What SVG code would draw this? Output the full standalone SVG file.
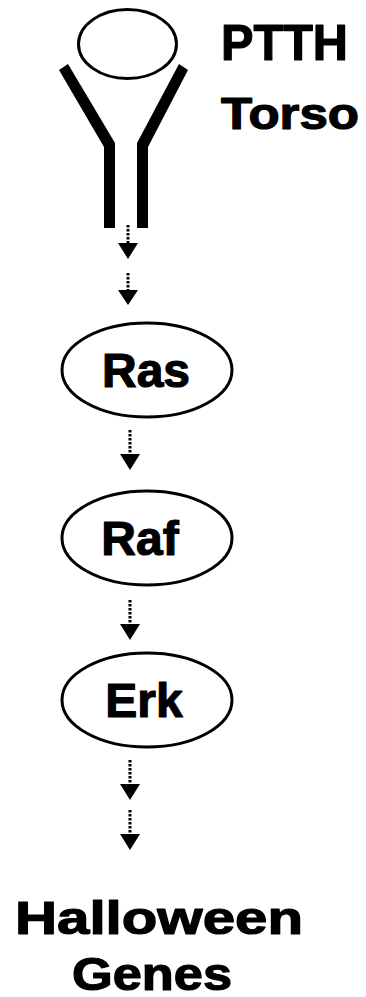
<svg xmlns="http://www.w3.org/2000/svg" width="366" height="997" viewBox="0 0 366 997">
  <style>
    .ring { fill: none; stroke: #000; stroke-width: 3; }
    .lbl { font-family: "Liberation Sans", Arial, sans-serif; font-weight: bold; fill: #000; stroke: #000; stroke-width: 1.2; stroke-linejoin: round; }
    .stem { stroke: #000; stroke-width: 3; stroke-dasharray: 2.5 1.5; fill: none; }
    .head { fill: #000; }
  </style>
  <rect width="366" height="997" fill="#fff"/>

  <!-- PTTH ligand -->
  <g id="ptth">
    <ellipse class="ring" cx="127.5" cy="44" rx="49" ry="34.5"/>
    <text class="lbl" x="221" y="60" font-size="50" textLength="127" lengthAdjust="spacingAndGlyphs">PTTH</text>
  </g>

  <!-- Torso receptor: two bent arms on a pair of straight stalks -->
  <g id="torso">
    <polygon fill="#000" points="59,70 68,64 115,143 115,228 104,228 104,147"/>
    <polygon fill="#000" points="188,70 179,64 137,143 137,228 148,228 148,147"/>
    <text class="lbl" x="221" y="129" font-size="45" textLength="138" lengthAdjust="spacingAndGlyphs">Torso</text>
  </g>

  <g id="ras">
    <ellipse class="ring" cx="147" cy="370" rx="85" ry="47"/>
    <text class="lbl" x="146" y="387" font-size="48" text-anchor="middle">Ras</text>
  </g>

  <g id="raf">
    <ellipse class="ring" cx="147" cy="538" rx="85" ry="47"/>
    <text class="lbl" x="140" y="555" font-size="48" text-anchor="middle">Raf</text>
  </g>

  <g id="erk">
    <ellipse class="ring" cx="147" cy="700" rx="85" ry="47"/>
    <text class="lbl" x="144" y="717" font-size="48" text-anchor="middle">Erk</text>
  </g>

  <g id="halloween">
    <text class="lbl" x="15" y="934" font-size="47" textLength="288" lengthAdjust="spacingAndGlyphs">Halloween</text>
    <text class="lbl" x="72" y="990" font-size="46" textLength="160" lengthAdjust="spacingAndGlyphs">Genes</text>
  </g>

  <!-- dotted signalling arrows -->
  <g id="connectors">
    <line class="stem" x1="128" y1="225" x2="128" y2="244"/>
    <polygon class="head" points="118,243 138,243 128,259"/>
    <line class="stem" x1="128" y1="273" x2="128" y2="291"/>
    <polygon class="head" points="118,290 138,290 128,305"/>

    <line class="stem" x1="130" y1="430" x2="130" y2="455"/>
    <polygon class="head" points="120,454 140,454 130,470"/>

    <line class="stem" x1="130" y1="600" x2="130" y2="625"/>
    <polygon class="head" points="120,624 140,624 130,640"/>

    <line class="stem" x1="130" y1="760" x2="130" y2="785"/>
    <polygon class="head" points="120,784 140,784 130,800"/>
    <line class="stem" x1="130" y1="810" x2="130" y2="835"/>
    <polygon class="head" points="120,834 140,834 130,850"/>
  </g>
</svg>
